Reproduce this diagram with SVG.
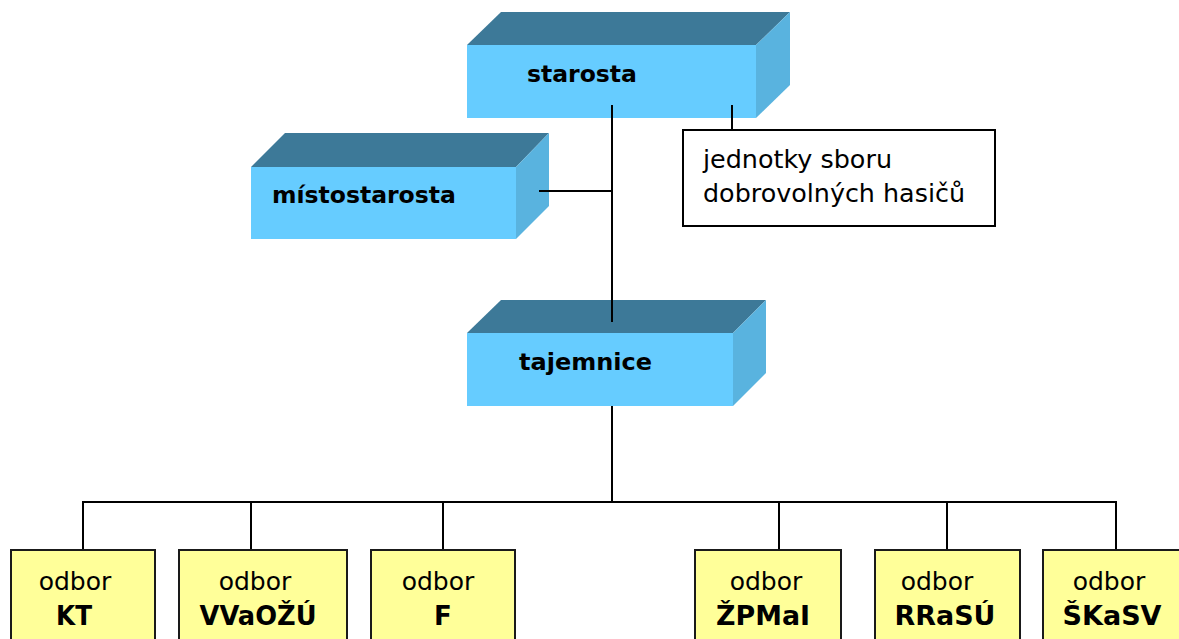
<svg xmlns="http://www.w3.org/2000/svg" width="1179" height="639" viewBox="0 0 1179 639">
  <style>
    .front { fill: #66CCFF; }
    .top { fill: #3D7998; }
    .side { fill: #59B3DF; }
    .lbl3d { font-family: "DejaVu Sans", Verdana, sans-serif; font-weight: bold; font-size: 23.5px; fill: #000; }
    .note { fill: #FFFFFF; stroke: #000; stroke-width: 2; }
    .noteText { font-family: "DejaVu Sans", Verdana, sans-serif; font-size: 25px; fill: #000; }
    .dept { fill: #FFFF99; stroke: #1a1a1a; stroke-width: 2; }
    .deptText { font-family: "DejaVu Sans", Verdana, sans-serif; font-size: 25px; fill: #000; text-anchor: middle; }
    .deptCode { font-weight: bold; font-size: 26px; }
    .wire { stroke: #000; stroke-width: 2; fill: none; }
  </style>

  <rect width="1179" height="639" fill="#FFFFFF"/>

  <!-- 3D boxes -->
  <g id="starosta">
    <polygon class="top" points="467,45 501,12 790,12 756,45"/>
    <polygon class="side" points="756,45 790,12 790,85 756,118"/>
    <rect class="front" x="467" y="45" width="289" height="73"/>
    <text class="lbl3d" x="527" y="82">starosta</text>
  </g>

  <g id="mistostarosta">
    <polygon class="top" points="251,167 285,133 549,133 516,167"/>
    <polygon class="side" points="516,167 549,133 549,206 516,239"/>
    <rect class="front" x="251" y="167" width="265" height="72"/>
    <text class="lbl3d" x="272" y="203">místostarosta</text>
  </g>

  <g id="tajemnice">
    <polygon class="top" points="467,333 501,300 766,300 733,333"/>
    <polygon class="side" points="733,333 766,300 766,373 733,406"/>
    <rect class="front" x="467" y="333" width="266" height="73"/>
    <text class="lbl3d" x="519" y="370" textLength="133" lengthAdjust="spacingAndGlyphs">tajemnice</text>
  </g>

  <!-- connectors -->
  <g id="connectors">
    <line class="wire" x1="612" y1="105" x2="612" y2="322"/>
    <line class="wire" x1="539" y1="191" x2="612" y2="191"/>
    <line class="wire" x1="732" y1="105" x2="732" y2="130"/>
    <line class="wire" x1="612" y1="406" x2="612" y2="502"/>
    <polyline class="wire" points="83,550 83,502 1116,502 1116,550"/>
    <line class="wire" x1="251" y1="502" x2="251" y2="550"/>
    <line class="wire" x1="443" y1="502" x2="443" y2="550"/>
    <line class="wire" x1="779" y1="502" x2="779" y2="550"/>
    <line class="wire" x1="947" y1="502" x2="947" y2="550"/>
  </g>

  <g id="hasici">
    <rect class="note" x="683" y="130" width="312" height="96"/>
    <text class="noteText" x="703" y="168" textLength="189" lengthAdjust="spacingAndGlyphs">jednotky sboru</text>
    <text class="noteText" x="703" y="202" textLength="262" lengthAdjust="spacingAndGlyphs">dobrovolných hasičů</text>
  </g>

  <!-- departments -->
  <g id="odbor-KT">
    <rect class="dept" x="11" y="550" width="144" height="100"/>
    <text class="deptText" x="75" y="590">odbor</text>
    <text class="deptText deptCode" x="74" y="625" textLength="36" lengthAdjust="spacingAndGlyphs">KT</text>
  </g>
  <g id="odbor-VVaOZU">
    <rect class="dept" x="179" y="550" width="168" height="100"/>
    <text class="deptText" x="255" y="590">odbor</text>
    <text class="deptText deptCode" x="258" y="625" textLength="117" lengthAdjust="spacingAndGlyphs">VVaOŽÚ</text>
  </g>
  <g id="odbor-F">
    <rect class="dept" x="371" y="550" width="144" height="100"/>
    <text class="deptText" x="438" y="590">odbor</text>
    <text class="deptText deptCode" x="443" y="625">F</text>
  </g>
  <g id="odbor-ZPMaI">
    <rect class="dept" x="695" y="550" width="146" height="100"/>
    <text class="deptText" x="766" y="590">odbor</text>
    <text class="deptText deptCode" x="763" y="625" textLength="94" lengthAdjust="spacingAndGlyphs">ŽPMaI</text>
  </g>
  <g id="odbor-RRaSU">
    <rect class="dept" x="875" y="550" width="145" height="100"/>
    <text class="deptText" x="937" y="590">odbor</text>
    <text class="deptText deptCode" x="945" y="625" textLength="101" lengthAdjust="spacingAndGlyphs">RRaSÚ</text>
  </g>
  <g id="odbor-SKaSV">
    <rect class="dept" x="1043" y="550" width="150" height="100"/>
    <text class="deptText" x="1109" y="590">odbor</text>
    <text class="deptText deptCode" x="1112" y="625" textLength="99" lengthAdjust="spacingAndGlyphs">ŠKaSV</text>
  </g>
</svg>
